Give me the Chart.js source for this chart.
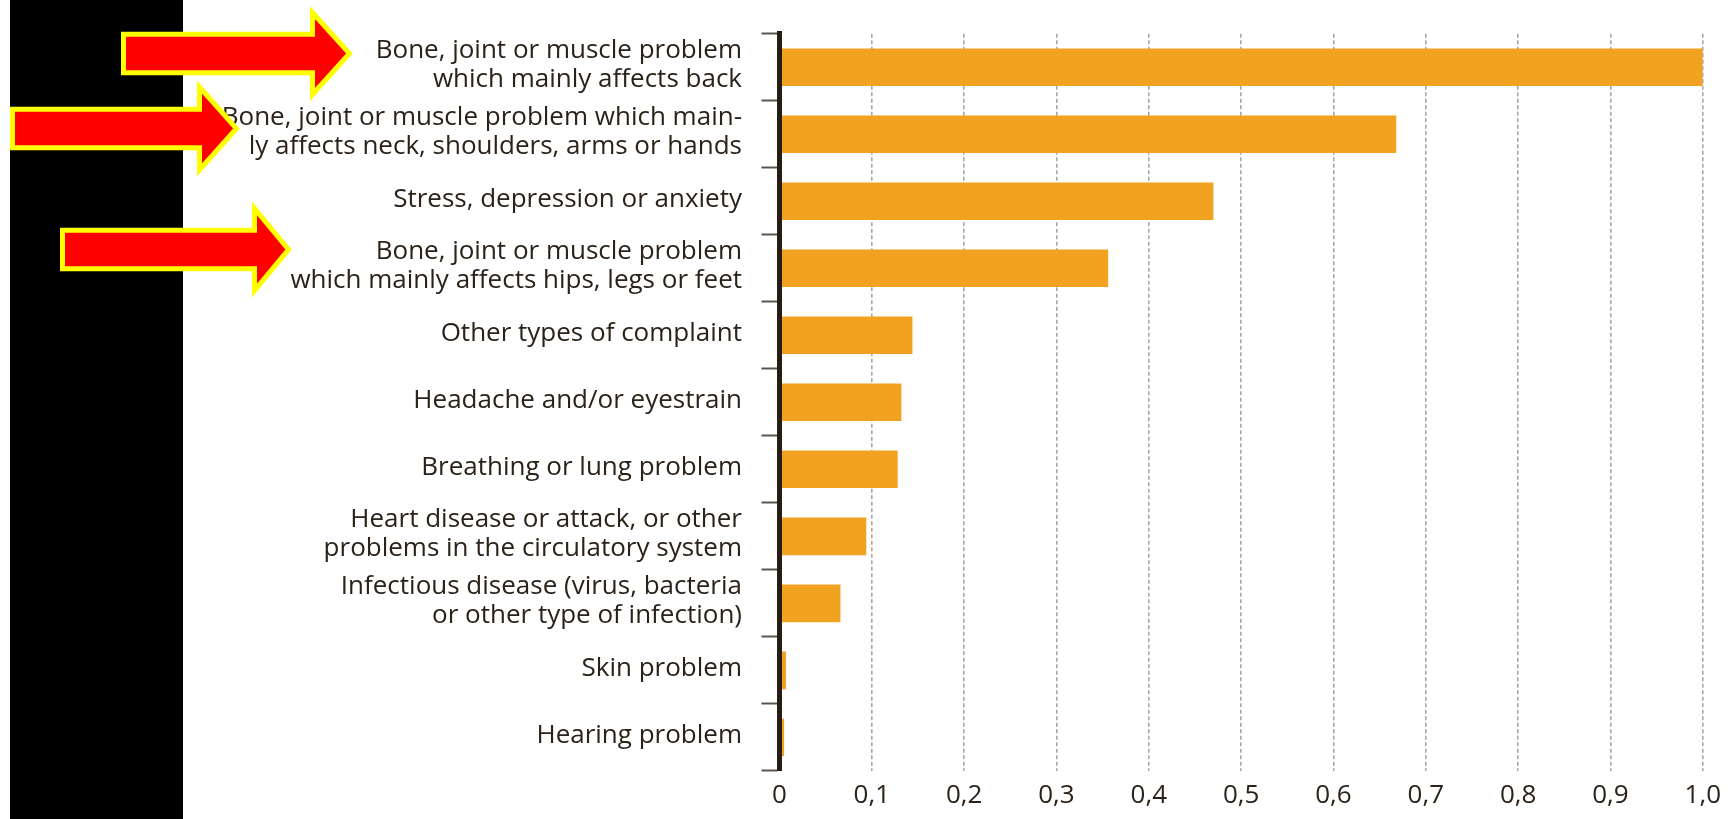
<!DOCTYPE html>
<html>
<head>
<meta charset="utf-8">
<script src="https://cdn.jsdelivr.net/npm/chart.js@4.4.1/dist/chart.umd.min.js"></script>
<style>
  html, body { margin: 0; padding: 0; background: #ffffff; }
  #wrap { position: absolute; left: 0; top: 0; width: 1731px; height: 819px; }
</style>
</head>
<body>
<div id="wrap"><canvas id="c" width="1731" height="819"></canvas></div>
<script>
// ---- data ----
const categories = [
  ["Bone, joint or muscle problem", "which mainly affects back"],
  ["Bone, joint or muscle problem which main-", "ly affects neck, shoulders, arms or hands"],
  "Stress, depression or anxiety",
  ["Bone, joint or muscle problem", "which mainly affects hips, legs or feet"],
  "Other types of complaint",
  "Headache and/or eyestrain",
  "Breathing or lung problem",
  ["Heart disease or attack, or other", "problems in the circulatory system"],
  ["Infectious disease (virus, bacteria", "or other type of infection)"],
  "Skin problem",
  "Hearing problem"
];
const values = [1.0, 0.668, 0.470, 0.356, 0.144, 0.132, 0.128, 0.094, 0.066, 0.007, 0.005];
const xTickLabels = ["0", "0,1", "0,2", "0,3", "0,4", "0,5", "0,6", "0,7", "0,8", "0,9", "1,0"];

// ---- styles ----
const FONT = { family: "'Open Sans', 'Noto Sans', sans-serif", size: 26, weight: 500, lineHeight: 1.1 };
const TEXT = "#2b2219";
const BAR = "#F0A220";
const GRID = "#aaa89e";

// decorative annotation arrows (pixel geometry of the overlay, not data)
const arrows = [
  { xL: 121, xB: 310, xT: 353, yC: 53.5, h1: 21.7, h2: 43.5 },
  { xL: 10,  xB: 197, xT: 240, yC: 128.5, h1: 21.7, h2: 44 },
  { xL: 60,  xB: 252, xT: 292, yC: 249.5, h1: 21.7, h2: 43.5 }
];

const overlay = {
  id: "overlay",
  beforeDraw(chart) {
    const ctx = chart.ctx;
    ctx.save();
    ctx.fillStyle = "#000000";
    ctx.fillRect(10, 0, 173, chart.height);
    ctx.restore();
  },
  afterDraw(chart) {
    const ctx = chart.ctx;
    ctx.save();
    const lw = 5;
    arrows.forEach(a => {
      const d = lw / 2;
      const h1 = a.h1 - d, h2 = a.h2 - d;
      const xL = a.xL + d, xB = a.xB + d, xT = a.xT - 3.5;
      ctx.beginPath();
      ctx.moveTo(xL, a.yC - h1);
      ctx.lineTo(xB, a.yC - h1);
      ctx.lineTo(xB, a.yC - h2);
      ctx.lineTo(xT, a.yC);
      ctx.lineTo(xB, a.yC + h2);
      ctx.lineTo(xB, a.yC + h1);
      ctx.lineTo(xL, a.yC + h1);
      ctx.closePath();
      ctx.fillStyle = "#ff0000";
      ctx.fill();
      ctx.lineJoin = "miter";
      ctx.miterLimit = 10;
      ctx.lineWidth = lw;
      ctx.strokeStyle = "#ffff00";
      ctx.stroke();
    });
    ctx.restore();
  }
};

new Chart(document.getElementById("c"), {
  type: "bar",
  data: {
    labels: categories,
    datasets: [{
      data: values,
      backgroundColor: BAR,
      borderWidth: 0,
      barPercentage: 0.56,
      categoryPercentage: 1.0
    }]
  },
  options: {
    indexAxis: "y",
    responsive: false,
    animation: false,
    devicePixelRatio: 1,
    layout: { padding: { top: 29, right: 25, bottom: 0, left: 0 } },
    plugins: { legend: { display: false }, tooltip: { enabled: false } },
    scales: {
      x: {
        type: "linear",
        min: 0,
        max: 1,
        afterFit(scale) { scale.height = 43; },
        ticks: {
          stepSize: 0.1,
          autoSkip: false,
          maxRotation: 0,
          padding: 10,
          color: TEXT,
          font: FONT,
          callback: (v, i) => xTickLabels[i]
        },
        grid: {
          color: (ctx) => (ctx.index === 0 ? "rgba(0,0,0,0)" : GRID),
          lineWidth: 1.6,
          drawTicks: false
        },
        border: { display: false, dash: [4, 2.5] }
      },
      y: {
        type: "category",
        offset: true,
        afterFit(scale) { scale.width = 779.5; },
        ticks: {
          autoSkip: false,
          padding: 19.5,
          labelOffset: -2,
          color: TEXT,
          font: FONT
        },
        grid: {
          offset: true,
          drawOnChartArea: false,
          tickLength: 18,
          tickColor: "#5a554f",
          tickWidth: 2
        },
        border: { display: true, color: "#261c10", width: 5, z: 1 }
      }
    }
  },
  plugins: [overlay]
});
</script>
</body>
</html>
